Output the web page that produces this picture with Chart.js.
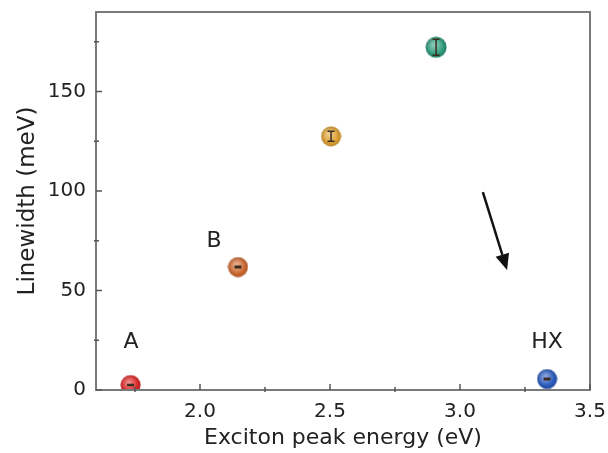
<!DOCTYPE html>
<html>
<head>
<meta charset="utf-8">
<script src="https://cdn.jsdelivr.net/npm/chart.js@4"></script>
<style>
html, body { margin: 0; padding: 0; background: #fff; }
#wrap { width: 608px; height: 453px; }
</style>
</head>
<body>
<div id="wrap"><canvas id="myChart"></canvas></div>
<script>
// exciton peak energy (eV) vs linewidth (meV)
const energy = [1.733, 2.146, 2.504, 2.908, 3.335];
const linewidth = [2.5, 61.8, 127.5, 172.3, 5.5];
const errors = [0.3, 0.4, 2.5, 4, 0.4];
const colors = ['#e02828', '#d06a30', '#e0a232', '#2f9e7c', '#2a5cc0'];

const xTicks = [2.0, 2.5, 3.0, 3.5];
const yTicks = [0, 50, 100, 150];
const xMinor = [1.75, 2.25, 2.75, 3.25];
const yMinor = [25, 75, 125, 175];

const noteText = ['A', 'B', 'HX'];
const noteX = [1.735, 2.054, 3.335];
const noteY = [24, 75, 24];
const arrowFrom = [3.088, 99.5];
const arrowTo = [3.181, 60.3];

const FONT = "'DejaVu Sans', sans-serif";

function sphere(color, size) {
  const c = document.createElement('canvas');
  c.width = c.height = size;
  const g = c.getContext('2d');
  const r = size / 2;
  g.beginPath();
  g.arc(r, r, r - 0.5, 0, Math.PI * 2);
  g.fillStyle = color;
  g.fill();
  let hi = g.createRadialGradient(r * 0.85, r * 0.8, 0, r * 0.85, r * 0.8, r * 0.85);
  hi.addColorStop(0, 'rgba(255,255,255,0.5)');
  hi.addColorStop(1, 'rgba(255,255,255,0)');
  g.fillStyle = hi;
  g.fill();
  let edge = g.createRadialGradient(r, r, r * 0.55, r, r, r);
  edge.addColorStop(0, 'rgba(0,0,0,0)');
  edge.addColorStop(1, 'rgba(0,0,0,0.2)');
  g.fillStyle = edge;
  g.fill();
  return c;
}

const points = energy.map((x, i) => ({x: x, y: linewidth[i]}));
const balls = colors.map((c, i) => sphere(c, i === 3 ? 22 : 21));

const extras = {
  id: 'extras',
  afterDatasetsDraw(chart) {
    const ctx = chart.ctx;
    const xs = chart.scales.x, ys = chart.scales.y;
    const a = chart.chartArea;
    ctx.save();
    // error bars
    ctx.strokeStyle = '#3a2c20';
    ctx.lineWidth = 1.5;
    points.forEach((p, i) => {
      const px = xs.getPixelForValue(p.x);
      const y1 = ys.getPixelForValue(p.y - errors[i]);
      const y2 = ys.getPixelForValue(p.y + errors[i]);
      ctx.beginPath();
      ctx.moveTo(px, y1); ctx.lineTo(px, y2);
      ctx.moveTo(px - 3.5, y1); ctx.lineTo(px + 3.5, y1);
      ctx.moveTo(px - 3.5, y2); ctx.lineTo(px + 3.5, y2);
      ctx.stroke();
    });
    // frame
    ctx.strokeStyle = '#7a7a7a';
    ctx.lineWidth = 2;
    ctx.strokeRect(a.left, a.top, a.right - a.left, a.bottom - a.top);
    // ticks
    ctx.strokeStyle = '#555';
    ctx.lineWidth = 1.5;
    ctx.beginPath();
    xTicks.forEach(v => {
      const px = xs.getPixelForValue(v);
      ctx.moveTo(px, a.bottom); ctx.lineTo(px, a.bottom - 6);
    });
    xMinor.forEach(v => {
      const px = xs.getPixelForValue(v);
      ctx.moveTo(px, a.bottom + 2); ctx.lineTo(px, a.bottom - 3);
    });
    yTicks.forEach(v => {
      const py = ys.getPixelForValue(v);
      ctx.moveTo(a.left, py); ctx.lineTo(a.left + 6, py);
    });
    yMinor.forEach(v => {
      const py = ys.getPixelForValue(v);
      ctx.moveTo(a.left - 2, py); ctx.lineTo(a.left + 3, py);
    });
    ctx.stroke();
    // notes
    ctx.fillStyle = '#222';
    ctx.font = '22px ' + FONT;
    ctx.textAlign = 'center';
    ctx.textBaseline = 'middle';
    noteText.forEach((t, i) => {
      ctx.fillText(t, xs.getPixelForValue(noteX[i]), ys.getPixelForValue(noteY[i]));
    });
    // arrow
    const x0 = xs.getPixelForValue(arrowFrom[0]), y0 = ys.getPixelForValue(arrowFrom[1]);
    const x1 = xs.getPixelForValue(arrowTo[0]), y1 = ys.getPixelForValue(arrowTo[1]);
    const ang = Math.atan2(y1 - y0, x1 - x0);
    const hl = 16, hw = 7;
    const bx = x1 - hl * Math.cos(ang), by = y1 - hl * Math.sin(ang);
    ctx.strokeStyle = '#111';
    ctx.lineWidth = 2.5;
    ctx.beginPath();
    ctx.moveTo(x0, y0); ctx.lineTo(bx, by);
    ctx.stroke();
    ctx.fillStyle = '#111';
    ctx.beginPath();
    ctx.moveTo(x1, y1);
    ctx.lineTo(bx + hw * Math.sin(ang), by - hw * Math.cos(ang));
    ctx.lineTo(bx - hw * Math.sin(ang), by + hw * Math.cos(ang));
    ctx.closePath();
    ctx.fill();
    ctx.restore();
  }
};

const ctx = document.getElementById('myChart');
const chart = new Chart(ctx, {
  type: 'scatter',
  data: {
    datasets: [{
      data: points,
      pointStyle: balls,
      pointRadius: 10,
      pointHoverRadius: 10,
    }]
  },
  options: {
    responsive: true,
    maintainAspectRatio: false,
    animation: false,
    layout: {padding: {top: 12, right: 18, left: 0, bottom: 0}},
    plugins: {legend: {display: false}, tooltip: {enabled: false}},
    scales: {
      x: {
        type: 'linear',
        min: 1.6,
        max: 3.5,
        afterBuildTicks: (s) => { s.ticks = xTicks.map(v => ({value: v})); },
        afterFit: (s) => {
          s.height = 63;
          s.paddingLeft = 0;
          s.paddingRight = 0;
        },
        grid: {display: false, drawTicks: false},
        border: {display: false},
        ticks: {
          padding: 10,
          color: '#222',
          font: {family: FONT, size: 20},
          callback: (v) => v.toFixed(1),
        },
        title: {
          display: true,
          text: 'Exciton peak energy (eV)',
          color: '#222',
          font: {family: FONT, size: 22},
          padding: {top: 0, bottom: 2},
        },
      },
      y: {
        type: 'linear',
        min: 0,
        max: 190,
        afterBuildTicks: (s) => { s.ticks = yTicks.map(v => ({value: v})); },
        afterFit: (s) => {
          s.width = 96;
          s.paddingTop = 0;
          s.paddingBottom = 0;
        },
        grid: {display: false, drawTicks: false},
        border: {display: false},
        ticks: {
          padding: 10,
          color: '#222',
          font: {family: FONT, size: 20},
        },
        title: {
          display: true,
          text: 'Linewidth (meV)',
          color: '#222',
          font: {family: FONT, size: 23},
          padding: {top: 14, bottom: 0},
        },
      },
    },
  },
  plugins: [extras],
});
</script>
</body>
</html>
